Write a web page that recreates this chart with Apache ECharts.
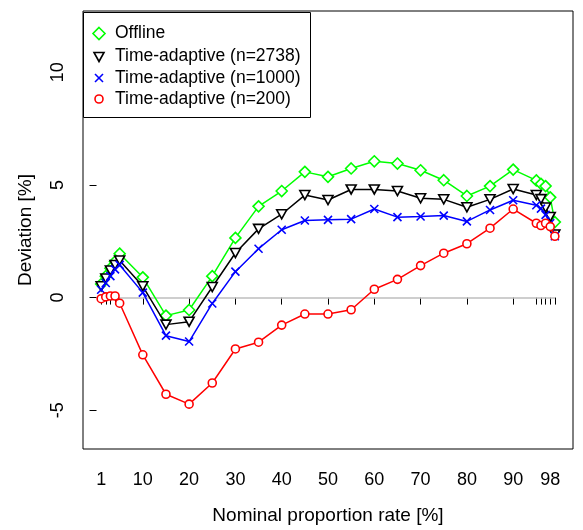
<!DOCTYPE html>
<html>
<head>
<meta charset="utf-8">
<script src="https://cdn.jsdelivr.net/npm/echarts@6/dist/echarts.min.js"></script>
<style>
html,body{margin:0;padding:0;background:#fff;}
#chart{width:583px;height:530px;}
</style>
</head>
<body>
<div id="chart"></div>
<script>
// ---- data ----
var xVals = [1, 2, 3, 4, 5, 10, 15, 20, 25, 30, 35, 40, 45, 50, 55, 60, 65, 70, 75, 80, 85, 90, 95, 96, 97, 98, 99];
var offline = [0.6, 0.95, 1.3, 1.6, 1.95, 0.9, -0.8, -0.55, 0.95, 2.65, 4.05, 4.73, 5.58, 5.36, 5.73, 6.05, 5.95, 5.65, 5.21, 4.51, 4.95, 5.68, 5.2, 5.05, 4.95, 4.45, 3.35];
var ta2738 = [0.5, 0.85, 1.2, 1.45, 1.65, 0.5, -1.2, -1.07, 0.47, 1.98, 3.05, 3.7, 4.55, 4.33, 4.8, 4.8, 4.73, 4.41, 4.36, 4.01, 4.36, 4.82, 4.55, 4.37, 4.0, 3.58, 2.8];
var ta1000 = [0.35, 0.65, 0.95, 1.25, 1.45, 0.22, -1.69, -1.95, -0.26, 1.15, 2.17, 3.01, 3.42, 3.45, 3.48, 3.93, 3.57, 3.6, 3.64, 3.38, 3.89, 4.32, 4.1, 3.95, 3.67, 3.3, 2.72];
var ta200 = [-0.05, 0.03, 0.07, 0.07, -0.25, -2.54, -4.29, -4.73, -3.79, -2.28, -1.98, -1.22, -0.73, -0.73, -0.54, 0.37, 0.81, 1.42, 1.97, 2.39, 3.08, 3.93, 3.3, 3.2, 3.3, 3.15, 2.72];
var seriesNames = ['Offline', 'Time-adaptive (n=2738)', 'Time-adaptive (n=1000)', 'Time-adaptive (n=200)'];
var xTickValues = [1, 2, 3, 4, 5, 10, 20, 30, 40, 50, 60, 70, 80, 90, 95, 96, 97, 98, 99];
var xLabelValues = [1, 10, 20, 30, 40, 50, 60, 70, 80, 90, 98];
var yTickValues = [-5, 0, 5, 10];
var refLevel = 0;

// ---- styling ----
var FONT = "'Liberation Sans', Arial, Helvetica, sans-serif";
var colors = ['#00FF00', '#000000', '#0000FF', '#FF0000'];
var triPath = 'path://M0,0L20,0L10,17.32Z';
var crossPath = 'path://M0,0L10,10M10,0L0,10';
var symbols = ['diamond', triPath, crossPath, 'circle'];
var symSizes = [11, [10, 9], 8, 8];
var dataSets = [offline, ta2738, ta1000, ta200];

function pairs(ys) { return xVals.map(function (x, i) { return [x, ys[i]]; }); }

var series = dataSets.map(function (ys, k) {
  var s = {
    name: seriesNames[k],
    type: 'line',
    data: pairs(ys),
    symbol: symbols[k],
    symbolSize: symSizes[k],
    showAllSymbol: true,
    z: 3 + k,
    lineStyle: { color: colors[k], width: 1.5 },
    itemStyle: { color: k === 2 ? 'rgba(0,0,0,0)' : '#ffffff', borderColor: colors[k], borderWidth: 1.6 },
    emphasis: { disabled: true },
    animation: false
  };
  if (k === 0) {
    s.markLine = {
      silent: true,
      symbol: 'none',
      label: { show: false },
      lineStyle: { color: '#BEBEBE', width: 1.5, type: 'solid' },
      z: 1,
      data: [[{ coord: [xVals[0], refLevel] }, { coord: [xVals[xVals.length - 1], refLevel] }]]
    };
  }
  return s;
});

// legend drawn as graphic
var legendRows = [33.5, 56.5, 78, 99];
var legendGraphics = [
  { type: 'rect', shape: { x: 83.5, y: 12.5, width: 227, height: 105 }, style: { fill: '#fff', stroke: '#000', lineWidth: 1 }, z: 100 }
];
var ix = 99;
legendGraphics.push({ type: 'polygon', shape: { points: [[ix, legendRows[0] - 6], [ix + 6, legendRows[0]], [ix, legendRows[0] + 6], [ix - 6, legendRows[0]]] }, style: { fill: 'none', stroke: colors[0], lineWidth: 1.6 }, z: 101 });
legendGraphics.push({ type: 'polygon', shape: { points: [[ix - 5, legendRows[1] - 4], [ix + 5, legendRows[1] - 4], [ix, legendRows[1] + 5]] }, style: { fill: 'none', stroke: colors[1], lineWidth: 1.6 }, z: 101 });
legendGraphics.push({ type: 'polyline', shape: { points: [[ix - 4, legendRows[2] - 4], [ix + 4, legendRows[2] + 4]] }, style: { stroke: colors[2], lineWidth: 1.6 }, z: 101 });
legendGraphics.push({ type: 'polyline', shape: { points: [[ix + 4, legendRows[2] - 4], [ix - 4, legendRows[2] + 4]] }, style: { stroke: colors[2], lineWidth: 1.6 }, z: 101 });
legendGraphics.push({ type: 'circle', shape: { cx: ix, cy: legendRows[3], r: 4 }, style: { fill: 'none', stroke: colors[3], lineWidth: 1.6 }, z: 101 });
seriesNames.forEach(function (n, k) {
  legendGraphics.push({ type: 'text', x: 115, y: legendRows[k], style: { text: n, font: '17.5px ' + FONT, fill: '#000', verticalAlign: 'middle', align: 'left' }, z: 101 });
});

var chart = echarts.init(document.getElementById('chart'), null, { renderer: 'canvas' });
chart.setOption({
  animation: false,
  backgroundColor: '#fff',
  grid: { left: 83, right: 10, top: 11, bottom: 77, show: true, borderColor: '#000', borderWidth: 1, backgroundColor: 'transparent' },
  xAxis: {
    type: 'value',
    min: -2.92, max: 102.92,
    name: 'Nominal proportion rate [%]',
    nameLocation: 'middle',
    nameGap: 57,
    nameTextStyle: { fontFamily: FONT, fontSize: 19, color: '#000' },
    axisLine: { show: false },
    axisTick: { show: true, inside: false, length: 7, customValues: xTickValues, lineStyle: { color: '#000', width: 1 } },
    axisLabel: { customValues: xLabelValues, fontFamily: FONT, fontSize: 18, color: '#000', margin: 22 },
    splitLine: { show: false }
  },
  yAxis: {
    type: 'value',
    min: -6.72, max: 12.72,
    name: 'Deviation [%]',
    nameLocation: 'middle',
    nameGap: 48,
    nameTextStyle: { fontFamily: FONT, fontSize: 19, color: '#000' },
    axisLine: { show: false },
    axisTick: { show: true, inside: false, length: 7, customValues: yTickValues, lineStyle: { color: '#000', width: 1 } },
    axisLabel: { customValues: yTickValues, rotate: 90, fontFamily: FONT, fontSize: 18, color: '#000', margin: 16 },
    splitLine: { show: false }
  },
  series: series,
  graphic: legendGraphics
});
</script>
</body>
</html>
